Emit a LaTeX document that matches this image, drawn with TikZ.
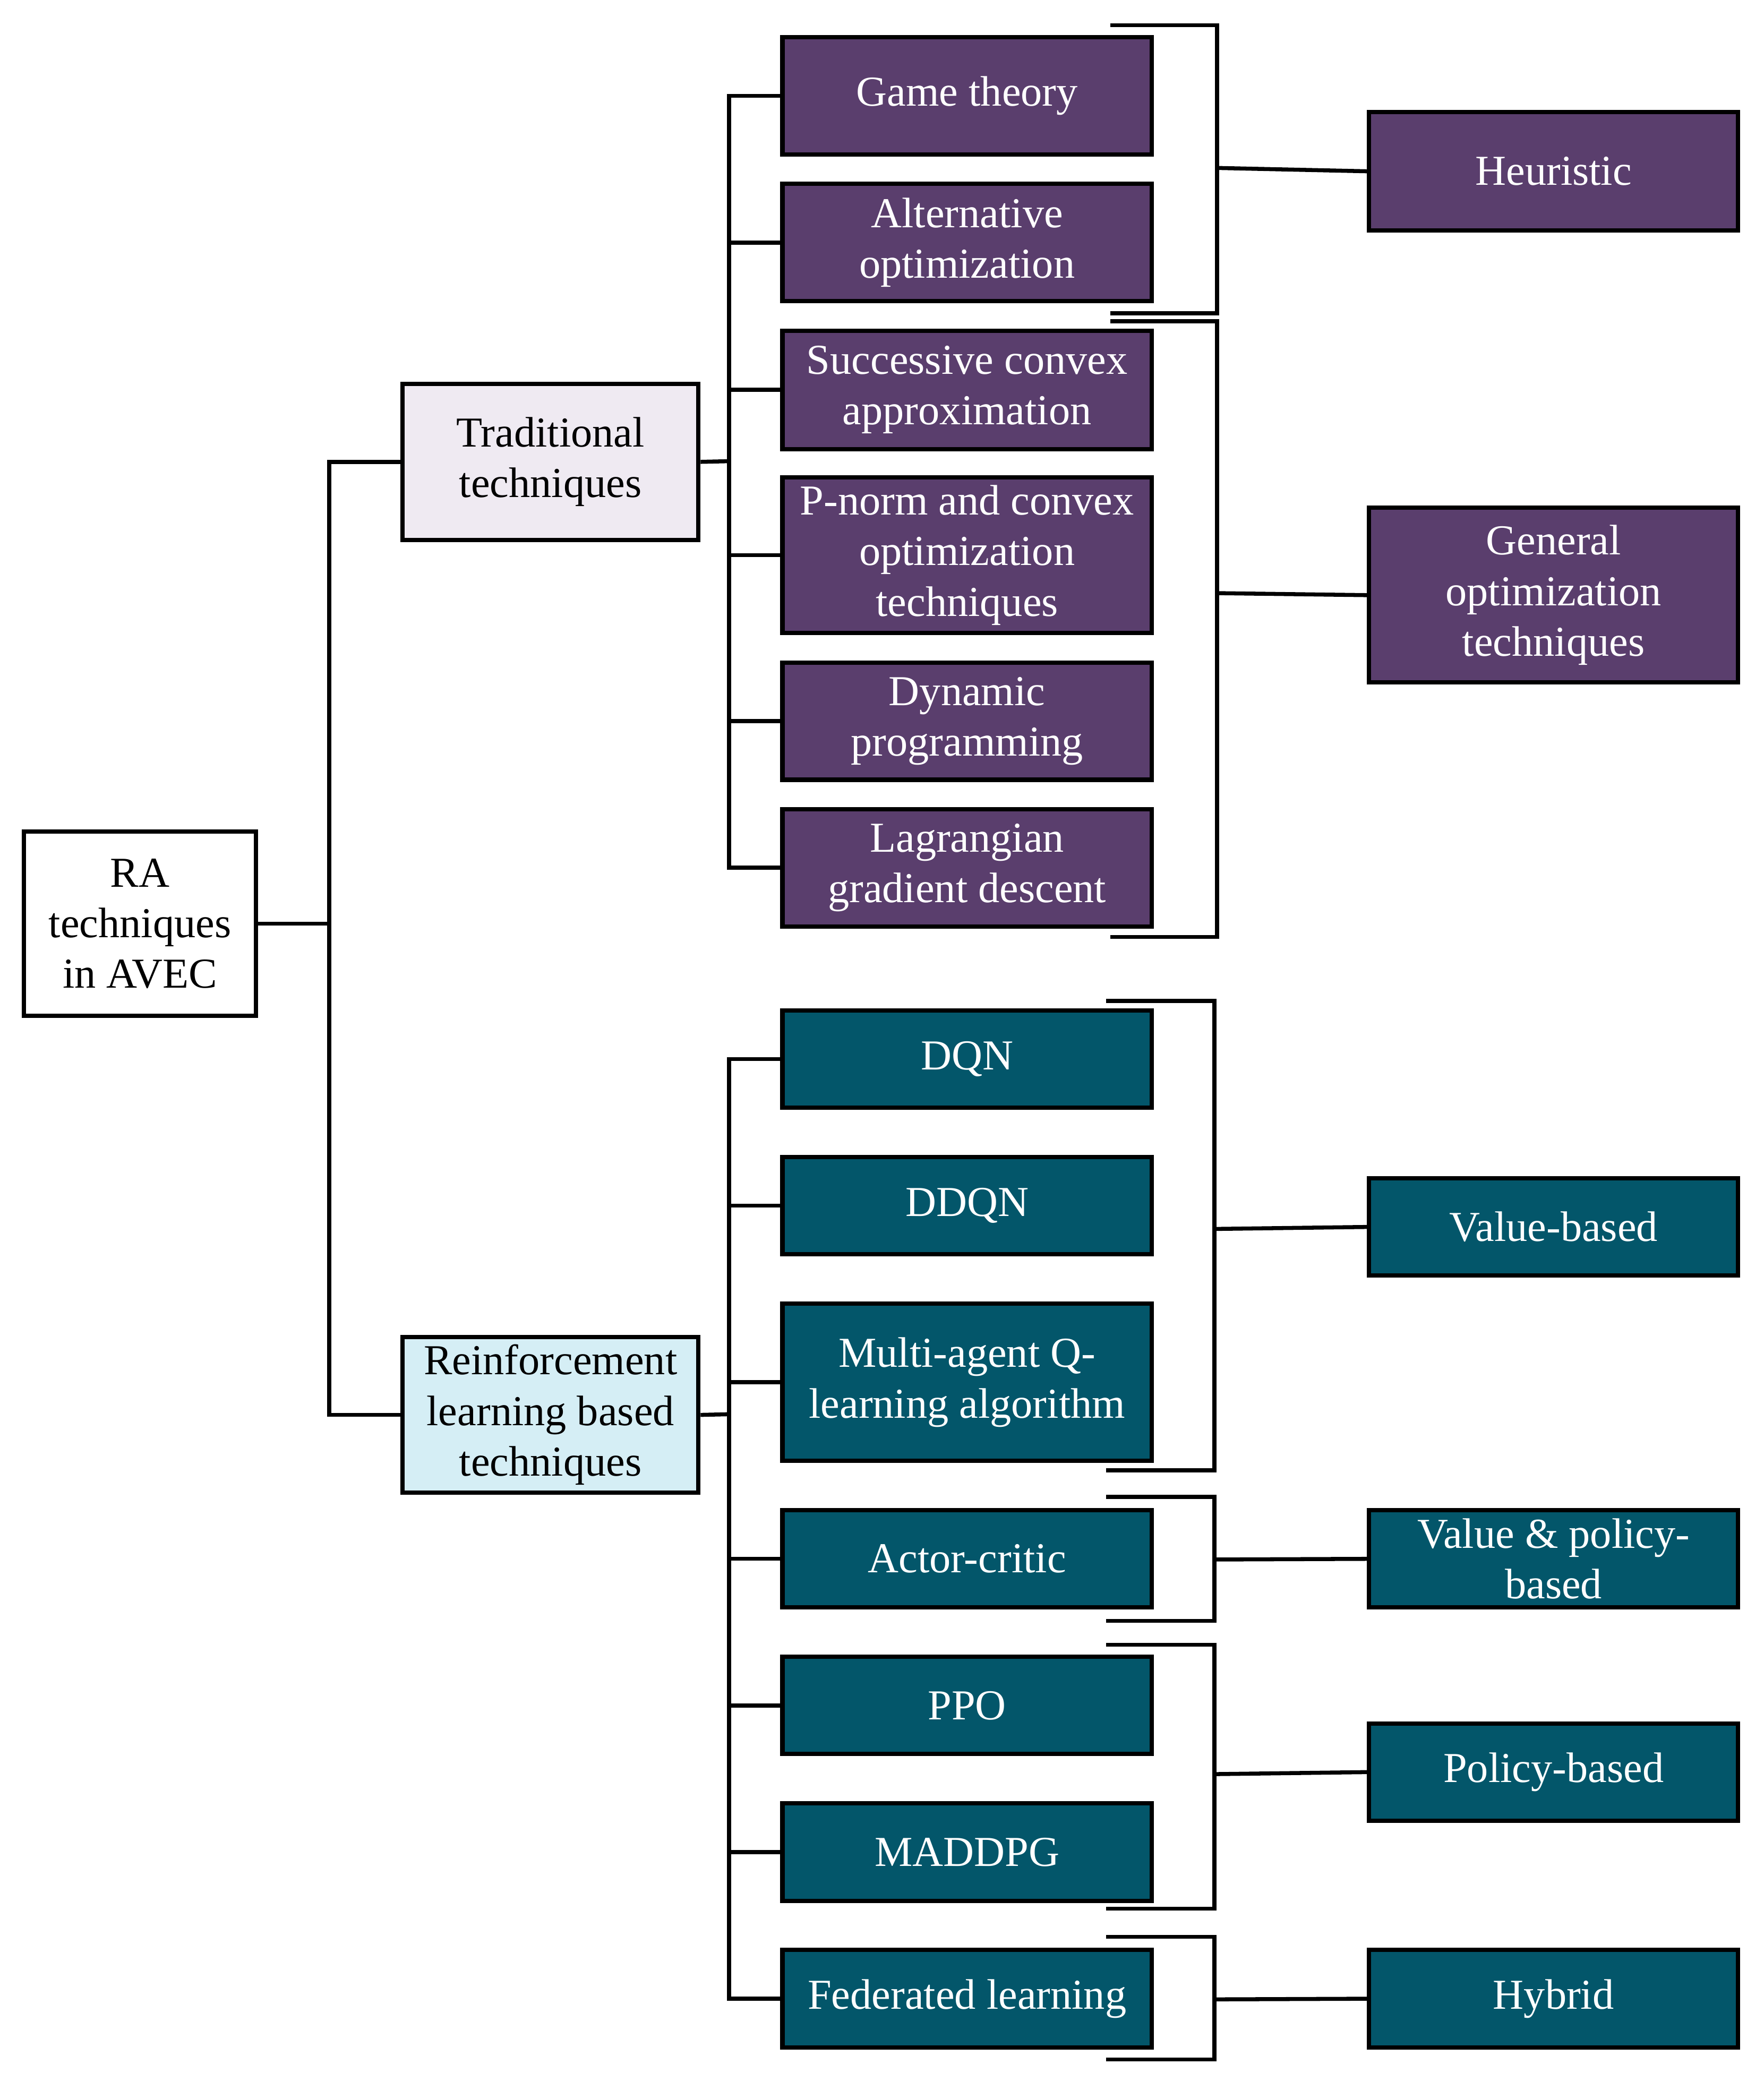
\documentclass[tikz,border=0pt]{standalone}
\usepackage{fontspec}
\setmainfont{Liberation Serif}
\begin{document}
\begin{tikzpicture}[x=0.5pt,y=-0.5pt,line width=1.5pt,
  box/.style={draw=black,line width=1.6pt,align=center,inner sep=0pt,font=\fontsize{16}{19}\selectfont},
  pu/.style={box,fill=pur,text=white},
  te/.style={box,fill=tea,text=white},
  con/.style={line width=1.5pt}]
\definecolor{pur}{HTML}{5A3E6D}
\definecolor{tea}{HTML}{03566A}
\definecolor{lav}{HTML}{EFEAF2}
\definecolor{cya}{HTML}{D5EEF5}
\useasboundingbox[fill=white] (0,0) rectangle (1323,1568);
\newcommand{\bx}[7]{\node[#6,minimum width={(#4-#2)*0.5pt},minimum height={(#5-#3)*0.5pt}] (#1) at ({(#2+#4)/2},{(#3+#5)/2}) {#7};}
% brackets
\coordinate (b1a) at (833,19); \coordinate (b1b) at (913,19); \coordinate (b1c) at (913,235); \coordinate (b1d) at (833,235); \coordinate (b1m) at (913,126);
\coordinate (b2a) at (833,241); \coordinate (b2b) at (913,241); \coordinate (b2c) at (913,703); \coordinate (b2d) at (833,703); \coordinate (b2m) at (913,445);
\coordinate (b3a) at (830,751); \coordinate (b3b) at (911,751); \coordinate (b3c) at (911,1103); \coordinate (b3d) at (830,1103); \coordinate (b3m) at (911,922);
\coordinate (b4a) at (830,1123); \coordinate (b4b) at (911,1123); \coordinate (b4c) at (911,1216); \coordinate (b4d) at (830,1216); \coordinate (b4m) at (911,1170);
\coordinate (b5a) at (830,1234); \coordinate (b5b) at (911,1234); \coordinate (b5c) at (911,1432); \coordinate (b5d) at (830,1432); \coordinate (b5m) at (911,1331);
\coordinate (b6a) at (830,1453); \coordinate (b6b) at (911,1453); \coordinate (b6c) at (911,1545); \coordinate (b6d) at (830,1545); \coordinate (b6m) at (911,1500);
\foreach \i in {1,...,6} {\draw[con] (b\i a) -- (b\i b) -- (b\i c) -- (b\i d);}
% boxes
\bx{ra}{18}{624}{192}{762}{box,fill=white}{RA\\techniques\\in AVEC}
\bx{trad}{302}{288}{524}{405}{box,fill=lav}{Traditional\\techniques}
\bx{rl}{302}{1003}{524}{1120}{box,fill=cya}{Reinforcement\\learning based\\techniques}
\bx{gt}{587}{28}{864}{116}{pu}{Game theory}
\bx{ao}{587}{138}{864}{226}{pu}{Alternative\\optimization}
\bx{sc}{587}{248}{864}{337}{pu}{Successive convex\\approximation}
\bx{pn}{587}{358}{864}{475}{pu}{P-norm and convex\\optimization\\techniques}
\bx{dp}{587}{497}{864}{585}{pu}{Dynamic\\programming}
\bx{lg}{587}{607}{864}{695}{pu}{Lagrangian\\gradient descent}
\bx{dqn}{587}{758}{864}{831}{te}{DQN}
\bx{ddqn}{587}{868}{864}{941}{te}{DDQN}
\bx{maq}{587}{978}{864}{1096}{te}{Multi-agent Q-\\learning algorithm}
\bx{ac}{587}{1133}{864}{1206}{te}{Actor-critic}
\bx{ppo}{587}{1243}{864}{1316}{te}{PPO}
\bx{mad}{587}{1353}{864}{1426}{te}{MADDPG}
\bx{fl}{587}{1463}{864}{1536}{te}{Federated learning}
\bx{heur}{1027}{84}{1304}{173}{pu}{Heuristic}
\bx{gen}{1027}{381}{1304}{512}{pu}{General\\optimization\\techniques}
\bx{vb}{1027}{884}{1304}{957}{te}{Value-based}
\bx{vpb}{1027}{1133}{1304}{1206}{te}{Value \& policy-\\based}
\bx{pb}{1027}{1293}{1304}{1366}{te}{Policy-based}
\bx{hy}{1027}{1463}{1304}{1536}{te}{Hybrid}
% connectors
\coordinate (j1) at (247,693);
\draw[con] (ra.east) -- (j1);
\draw[con] (trad.west) -| (j1);
\draw[con] (rl.west) -| (j1);
\coordinate (j2) at (547,346);
\draw[con] (trad.east) -- (j2);
\foreach \n in {gt,ao,sc,pn,dp,lg} {\draw[con] (\n.west) -| (j2);}
\coordinate (j3) at (547,1061);
\draw[con] (rl.east) -- (j3);
\foreach \n in {dqn,ddqn,maq,ac,ppo,mad,fl} {\draw[con] (\n.west) -| (j3);}
\draw[con] (b1m) -- (heur.west);
\draw[con] (b2m) -- (gen.west);
\draw[con] (b3m) -- (vb.west);
\draw[con] (b4m) -- (vpb.west);
\draw[con] (b5m) -- (pb.west);
\draw[con] (b6m) -- (hy.west);
\end{tikzpicture}
\end{document}
